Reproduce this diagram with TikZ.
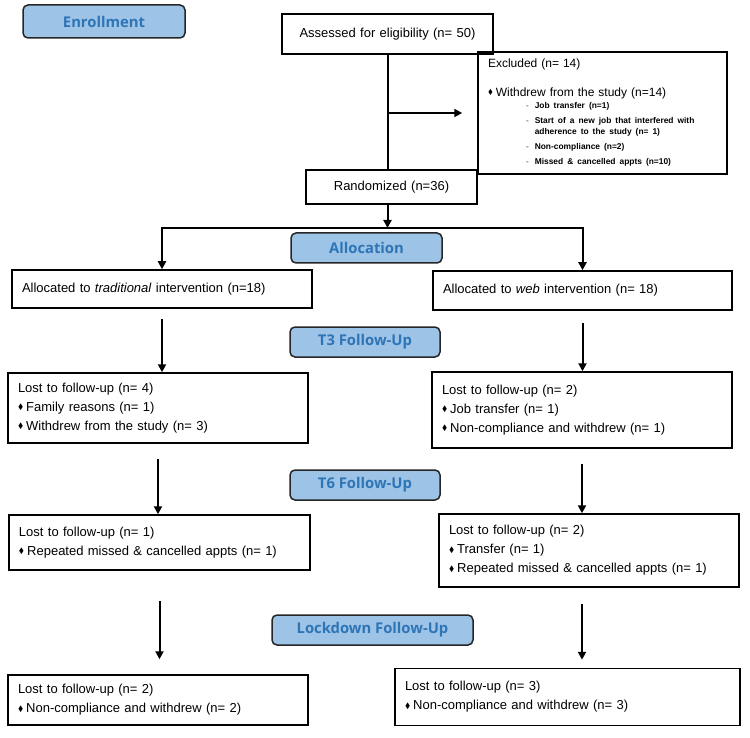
\documentclass[tikz,border=0pt]{standalone}
\usepackage{amssymb}
\usepackage{fontspec}
\setmainfont{Liberation Sans}
\newfontfamily\headfont{Open Sans}
\usetikzlibrary{arrows.meta}
\definecolor{headblue}{HTML}{9DC3E6}
\definecolor{headtext}{HTML}{2E75B6}
\newcommand{\bul}{\raisebox{1.6pt}{\scalebox{0.6}{$\blacklozenge$}}\hspace{3pt}}
\tikzset{
  head/.style={draw=black!85, line width=1.5pt, rounded corners=5pt, fill=headblue,
    text=headtext, font=\headfont\bfseries\fontsize{14.8}{16}\selectfont, inner sep=0pt},
  box/.style={draw, line width=1.5pt, inner xsep=10pt, inner ysep=4pt, align=left,
    font=\fontsize{13}{19}\selectfont},
  arr/.style={-{Triangle[width=8pt,length=8pt]}, line width=2pt},
  link/.style={line width=2pt}
}

\begin{document}
\begin{tikzpicture}[x=1pt,y=-1pt]
        \useasboundingbox (0,0) rectangle (750,738);
        %stage headers
        \node[head, minimum width=162pt, minimum height=33pt] (enroll) at (104,21.5) {Enrollment};
        \node[head, minimum width=151pt, minimum height=30pt] (alloc) at (366.5,248) {Allocation};
        \node[head, minimum width=150pt, minimum height=30pt] (t3) at (365,342) {T3 Follow-Up};
        \node[head, minimum width=150pt, minimum height=30pt] (t6) at (365,485) {T6 Follow-Up};
        \node[head, minimum width=201pt, minimum height=30pt] (lock) at (372.5,630) {Lockdown Follow-Up};
        %boxes
        \node[box, text width=191pt, minimum height=40pt, align=center] (assess) at (387.5,34) {Assessed for eligibility (n= 50)};
        \node[box, text width=229pt, minimum height=122pt, font=\fontsize{12}{17}\selectfont] (excl) at (602.5,113) {Excluded (n= 14)\\[12pt]
          \bul Withdrew from the study (n=14)\\[-5pt]
          \hspace*{38pt}{\fontsize{8.4}{11}\selectfont\bfseries
          \begin{tabular}[t]{@{}l@{\hspace{6pt}}l@{}}
            {\color{gray}-} & Job transfer (n=1)\\[4pt]
            {\color{gray}-} & Start of a new job that interfered with\\
                            & adherence to the study (n= 1)\\[4pt]
            {\color{gray}-} & Non-compliance (n=2)\\[4pt]
            {\color{gray}-} & Missed \& cancelled appts (n=10)
          \end{tabular}}};
        \node[box, text width=151pt, minimum height=34pt, align=center] (rand) at (391.5,187) {Randomized (n=36)};
        \node[box, text width=280pt, minimum height=38pt] (trad) at (162,289) {Allocated to \textit{traditional} intervention (n=18)};
        \node[box, text width=279pt, minimum height=39pt] (web) at (582.5,290.5) {Allocated to \textit{web} intervention (n= 18)};
        \node[box, text width=280pt, minimum height=70pt] (lost1L) at (158,408) {Lost to follow-up (n= 4)\\
          \bul Family reasons (n= 1)\\ \bul Withdrew from the study (n= 3)};
        \node[box, text width=280pt, minimum height=76pt] (lost1R) at (582,410) {Lost to follow-up (n= 2)\\
          \bul Job transfer (n= 1)\\ \bul Non-compliance and withdrew (n= 1)};
        \node[box, text width=281pt, minimum height=55pt] (lost2L) at (159.5,542.5) {Lost to follow-up (n= 1)\\
          \bul Repeated missed \& cancelled appts (n= 1)};
        \node[box, text width=280pt, minimum height=73pt] (lost2R) at (589,550.5) {Lost to follow-up (n= 2)\\
          \bul Transfer (n= 1)\\ \bul Repeated missed \& cancelled appts (n= 1)};
        \node[box, text width=280pt, minimum height=50pt] (lost3L) at (158,700) {Lost to follow-up (n= 2)\\
          \bul Non-compliance and withdrew (n= 2)};
        \node[box, text width=325pt, minimum height=57pt] (lost3R) at (567.5,697) {Lost to follow-up (n= 3)\\
          \bul Non-compliance and withdrew (n= 3)};
        %connectors
        \coordinate (split) at (387.5,228);
        \draw[link] (assess.south) -- (assess.south |- rand.north);
        \draw[arr, shorten >=15pt] (assess.south |- excl.west) -- (excl.west);
        \draw[arr] (split |- rand.south) -- (split);
        \draw[arr] (split) -| (trad.north);
        \draw[arr] (split) -| (web.north);
        \draw[arr, shorten <=10pt] (trad.south) -- (trad.south |- lost1L.north);
        \draw[arr, shorten <=12pt] (web.south) -- (web.south |- lost1R.north);
        \draw[arr, shorten <=15pt] (lost1L.south) -- (lost1L.south |- lost2L.north);
        \draw[arr, shorten <=15pt] (lost1R.south) -- (lost1R.south |- lost2R.north);
        \draw[arr, shorten <=30pt, shorten >=15pt] (lost2L.south) -- (lost2L.south |- lost3L.north);
        \draw[arr, shorten <=16pt, shorten >=8pt] (lost1R.south |- lost2R.south) -- (lost1R.south |- lost3R.north);
\end{tikzpicture}
\end{document}
